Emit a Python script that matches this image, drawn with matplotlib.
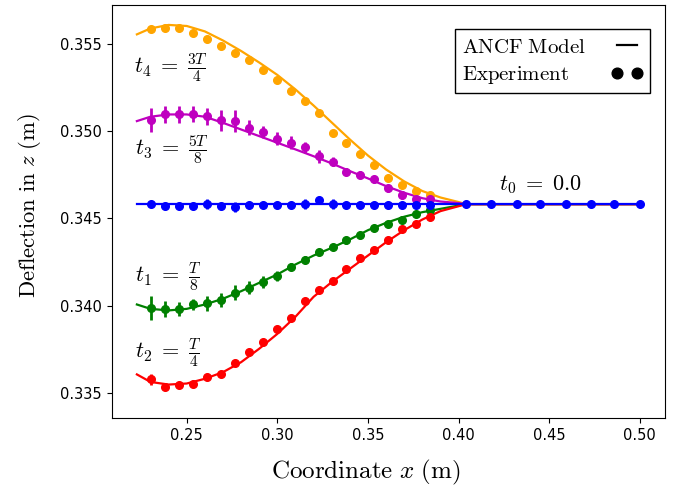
import matplotlib
matplotlib.use("Agg")
import matplotlib.pyplot as plt
from matplotlib.lines import Line2D

plt.rcParams['mathtext.fontset'] = 'cm'

# ---- Experimental data ----
x_exp = [0.2301, 0.2380, 0.2457, 0.2535, 0.2612, 0.2690, 0.2765, 0.2842, 0.2922, 0.2999,
         0.3076, 0.3154, 0.3231, 0.3308, 0.3378, 0.3456, 0.3535, 0.3612, 0.3690, 0.3767, 0.3841]
x_exp_right = [0.404, 0.418, 0.432, 0.445, 0.459, 0.473, 0.486, 0.500]

z0_exp = [0.34582, 0.34570, 0.34570, 0.34570, 0.34582, 0.34570, 0.34567, 0.34576, 0.34576, 0.34576,
          0.34576, 0.34582, 0.34605, 0.34582, 0.34576, 0.34576, 0.34576, 0.34576, 0.34576, 0.34576, 0.34576]
z0_exp_right = [0.34582, 0.34582, 0.34582, 0.34582, 0.34582, 0.34582, 0.34582, 0.34582]
z0_err = [0.00015, 0.00015, 0.00015, 0.00015, 0.00028, 0.00015, 0.00028, 0.00015, 0.00015, 0.00015,
          0.00015, 0.00028, 0.00015, 0.00028, 0.00015, 0.00015, 0.00015, 0.00015, 0.00015, 0.00015, 0.00015]
z0_err_right = [0.0001] * 8

z1_exp = [0.33989, 0.33983, 0.33983, 0.34010, 0.34014, 0.34033, 0.34075, 0.34105, 0.34136, 0.34170,
          0.34224, 0.34265, 0.34307, 0.34336, 0.34374, 0.34408, 0.34447, 0.34471, 0.34494, 0.34525, 0.34546]
z1_err = [0.00070, 0.00046, 0.00040, 0.00032, 0.00042, 0.00038, 0.00044, 0.00036, 0.00036, 0.00029,
          0.00020, 0.00020, 0.00018, 0.00018, 0.00018, 0.00015, 0.00015, 0.00015, 0.00015, 0.00015, 0.00015]

z2_exp = [0.33579, 0.33537, 0.33549, 0.33552, 0.33594, 0.33613, 0.33674, 0.33739, 0.33794, 0.33869,
          0.33932, 0.34027, 0.34088, 0.34145, 0.34212, 0.34275, 0.34319, 0.34374, 0.34441, 0.34471, 0.34510]
z2_err = [0.00029, 0.00015, 0.00015, 0.00015, 0.00015, 0.00015, 0.00015, 0.00015, 0.00015, 0.00015,
          0.00015, 0.00015, 0.00015, 0.00015, 0.00015, 0.00015, 0.00015, 0.00015, 0.00015, 0.00015, 0.00015]

z3_exp = [0.35062, 0.35095, 0.35095, 0.35095, 0.35085, 0.35062, 0.35057, 0.35019, 0.34994, 0.34956,
          0.34933, 0.34906, 0.34856, 0.34824, 0.34767, 0.34750, 0.34723, 0.34672, 0.34633, 0.34613, 0.34609]
z3_err = [0.00069, 0.00048, 0.00048, 0.00046, 0.00048, 0.00061, 0.00065, 0.00044, 0.00036, 0.00036,
          0.00038, 0.00033, 0.00036, 0.00025, 0.00020, 0.00020, 0.00020, 0.00020, 0.00020, 0.00015, 0.00015]

z4_exp = [0.35585, 0.35587, 0.35587, 0.35562, 0.35528, 0.35486, 0.35448, 0.35408, 0.35348, 0.35291,
          0.35231, 0.35171, 0.35102, 0.34990, 0.34933, 0.34870, 0.34805, 0.34731, 0.34691, 0.34656, 0.34636]
z4_err = [0.00012] * 21

# ---- ANCF model curves ----
x_mod = [0.2225, 0.23, 0.24, 0.25, 0.26, 0.27, 0.28, 0.29, 0.30, 0.31, 0.32, 0.33, 0.34,
         0.35, 0.36, 0.37, 0.38, 0.39, 0.40, 0.404, 0.50]
z0_mod = [0.34582] * 21
z1_mod = [0.34008, 0.33983, 0.33974, 0.33983, 0.34008, 0.34041, 0.34084, 0.34132, 0.34180, 0.34237,
          0.34288, 0.34332, 0.34380, 0.34433, 0.34475, 0.34510, 0.34536, 0.34555, 0.34574, 0.34582, 0.34582]
z2_mod = [0.33608, 0.33565, 0.33550, 0.33556, 0.33583, 0.33621, 0.33678, 0.33755, 0.33840, 0.33938,
          0.34052, 0.34136, 0.34212, 0.34288, 0.34364, 0.34433, 0.34494, 0.34542, 0.34570, 0.34582, 0.34582]
z3_mod = [0.35057, 0.35082, 0.35095, 0.35095, 0.35082, 0.35047, 0.35009, 0.34971, 0.34933, 0.34895,
          0.34856, 0.34815, 0.34771, 0.34729, 0.34685, 0.34647, 0.34616, 0.34597, 0.34588, 0.34582, 0.34582]
z4_mod = [0.35553, 0.35587, 0.35607, 0.35601, 0.35570, 0.35518, 0.35458, 0.35392, 0.35321, 0.35238,
          0.35146, 0.35049, 0.34952, 0.34860, 0.34780, 0.34712, 0.34657, 0.34620, 0.34594, 0.34582, 0.34582]

fig = plt.figure(figsize=(6.73, 4.91), dpi=100)
ax = fig.add_axes([111.7 / 673, 1 - 418.3 / 491, (665 - 111.7) / 673, (418.3 - 5) / 491])

lw = 1.6
ms = 5.5
series = [
    (z4_mod, z4_exp, z4_err, 'orange'),
    (z3_mod, z3_exp, z3_err, 'm'),
    (z1_mod, z1_exp, z1_err, 'g'),
    (z2_mod, z2_exp, z2_err, 'r'),
]
for zm, ze, err, c in series:
    ax.plot(x_mod, zm, color=c, lw=lw, zorder=2)
    ax.errorbar(x_exp, ze, yerr=err, fmt='o', color=c, ms=ms, elinewidth=2, capsize=0, zorder=3)

ax.plot(x_mod, z0_mod, color='b', lw=lw, zorder=4)
ax.errorbar(x_exp + x_exp_right, z0_exp + z0_exp_right, yerr=z0_err + z0_err_right,
            fmt='o', color='b', ms=ms, elinewidth=2, capsize=0, zorder=5)

ax.set_xlim(0.2086, 0.5139)
ax.set_ylim(0.33357, 0.35721)
ax.set_xticks([0.25, 0.30, 0.35, 0.40, 0.45, 0.50])
ax.set_yticks([0.335, 0.340, 0.345, 0.350, 0.355])
ax.tick_params(labelsize=10.5)

ax.set_xlabel(r'$\mathrm{Coordinate}\ x\ \mathrm{(m)}$', fontsize=18, labelpad=11)
ax.set_ylabel(r'$\mathrm{Deflection\ in}\ z\ \mathrm{(m)}$', fontsize=16.3, labelpad=12)
ax.xaxis.label.set_x(0.46)
ax.yaxis.label.set_y(0.514)

fs = 16
ax.text(0.2209, 0.35364, r'$t_4 \;=\; \frac{3T}{4}$', fontsize=fs, va='center', ha='left')
ax.text(0.2214, 0.34895, r'$t_3 \;=\; \frac{5T}{8}$', fontsize=fs, va='center', ha='left')
ax.text(0.2214, 0.34170, r'$t_1 \;=\; \frac{T}{8}$', fontsize=fs, va='center', ha='left')
ax.text(0.2214, 0.33733, r'$t_2 \;=\; \frac{T}{4}$', fontsize=fs, va='center', ha='left')
ax.text(0.4222, 0.34695, r'$t_0 \;=\; 0.0$', fontsize=fs, va='center', ha='left')

h_model = Line2D([], [], color='k', lw=lw)
h_exp = Line2D([], [], color='k', marker='o', ls='none', ms=ms * 1.4)
leg = ax.legend([h_model, h_exp],
                [r'$\mathrm{ANCF\ Model}$', r'$\mathrm{Experiment}$'],
                loc='upper right', bbox_to_anchor=(0.973, 0.941), borderaxespad=0,
                fontsize=15, markerfirst=False, numpoints=2,
                fancybox=False, edgecolor='k', framealpha=1, handlelength=1.55,
                handletextpad=1.2, labelspacing=0.35, borderpad=0.35)
leg.get_frame().set_linewidth(1.0)

# left-align legend texts while keeping handles aligned on the right
fig.canvas.draw()
renderer = fig.canvas.get_renderer()
texts = leg.get_texts()
widths = [t.get_window_extent(renderer).width for t in texts]
try:
    col = leg._legend_handle_box.get_children()[0]
    rows = col.get_children()
    maxw = max(widths)
    for row, w in zip(rows, widths):
        row.sep = row.sep + (maxw - w) * 72.0 / fig.dpi
except Exception:
    pass

fig.savefig('out.png', dpi=100)
